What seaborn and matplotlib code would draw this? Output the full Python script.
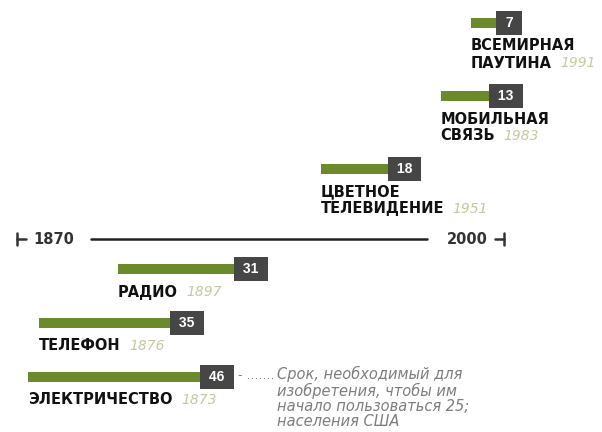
import matplotlib
matplotlib.use("Agg")
import matplotlib.pyplot as plt
import seaborn as sns

names = ["ЭЛЕКТРИЧЕСТВО", "ТЕЛЕФОН", "РАДИО",
         "ЦВЕТНОЕ\nТЕЛЕВИДЕНИЕ", "МОБИЛЬНАЯ\nСВЯЗЬ", "ВСЕМИРНАЯ\nПАУТИНА"]
invented = [1873, 1876, 1897, 1951, 1983, 1991]
years_to_25 = [46, 35, 31, 18, 13, 7]
timeline = [1870, 2000]
note = ("Срок, необходимый для\nизобретения, чтобы им\n"
        "начало пользоваться 25;\nнаселения США")

GREEN = "#6b8a2c"
BOX = "#464646"
YEAR = "#c8c8a0"
GREY = "#7d7d7d"
DARK = "#333333"

W, H = 602, 432
sns.set_theme(style="white")
plt.rcParams["font.family"] = ["DejaVu Sans"]

fig = plt.figure(figsize=(W / 100, H / 100), dpi=100)
ax = fig.add_axes([0, 0, 1, 1])

px_per_year = 3.75
x0 = 1873 - 28 / px_per_year   # 1873 sits 28 px from the left edge
dx = 1 / px_per_year           # one pixel, in years
PT = 0.72                      # one pixel, in points

# row centres (pixels from the top): rows stack upwards, two-line labels
# need more room, and the timeline sits between the third and fourth row
row_y = []
y = 377
for i, name in enumerate(names):
    if i > 0:
        y -= 35 + 19 * (name.count("\n") + 1)
        if i == 3:
            y -= 27
    row_y.append(y)
timeline_y = row_y[2] - 30

boxes = []
for name, start, lag, y in zip(names, invented, years_to_25, row_y):
    # green bar from the year of invention to the year of 25% use
    sns.barplot(x=[lag], y=[y], left=start, orient="y", native_scale=True,
                width=10, color=GREEN, saturation=1, errorbar=None,
                linewidth=0, ax=ax)
    # dark box with the number of years
    box = ax.annotate(f" {lag} ", xy=(start + lag, y), xytext=(3.5, 0),
                      textcoords="offset points", ha="left", va="center",
                      color="white", fontsize=10, fontweight="bold",
                      family="Liberation Sans",
                      bbox=dict(boxstyle="square,pad=0.38", fc=BOX, ec="none"))
    boxes.append(box)
    # label under the bar, year after the last line
    for j, line in enumerate(name.split("\n")):
        t = ax.annotate(line, xy=(start, y), xytext=(0, -(23 + 17 * j) * PT),
                        textcoords="offset points", ha="left", va="center",
                        fontsize=10.5, fontweight="bold", color="#111111")
    ax.annotate(str(start), xy=(1, 0.5), xycoords=t, xytext=(6, 0),
                textcoords="offset points", ha="left", va="center",
                fontsize=10, style="italic", color=YEAR)

# timeline 1870 ... 2000
ty = timeline_y
ax.plot([timeline[0] + 74 * dx, timeline[1] - 77 * dx], [ty, ty],
        color="#222222", lw=1.8)
for yr, side in zip(timeline, (1, -1)):
    ax.plot([yr, yr + side * 9 * dx], [ty, ty], color=DARK, lw=1.8)
    ax.plot([yr, yr], [ty - 6, ty + 6], color=DARK, lw=1.8)
    ax.annotate(str(yr), xy=(yr, ty), xytext=(side * 17 * PT, 0),
                textcoords="offset points",
                ha="left" if side > 0 else "right", va="center",
                fontsize=10.5, fontweight="bold", color=DARK)

# explanatory note with a dotted leader from the electricity box
lead = ax.annotate("- .......", xy=(1, 0.5), xycoords=boxes[0],
                   xytext=(6.5, 1), textcoords="offset points",
                   ha="left", va="center", fontsize=9, color=GREY)
ax.annotate(note, xy=(1, 0.5), xycoords=lead, xytext=(2, 7),
            textcoords="offset points", ha="left", va="top",
            fontsize=10.5, style="italic", color=GREY, linespacing=1.03)

ax.set_xlim(x0, x0 + W / px_per_year)
ax.set_ylim(H, 0)
ax.axis("off")

fig.savefig("out.png", dpi=100, facecolor="white")
